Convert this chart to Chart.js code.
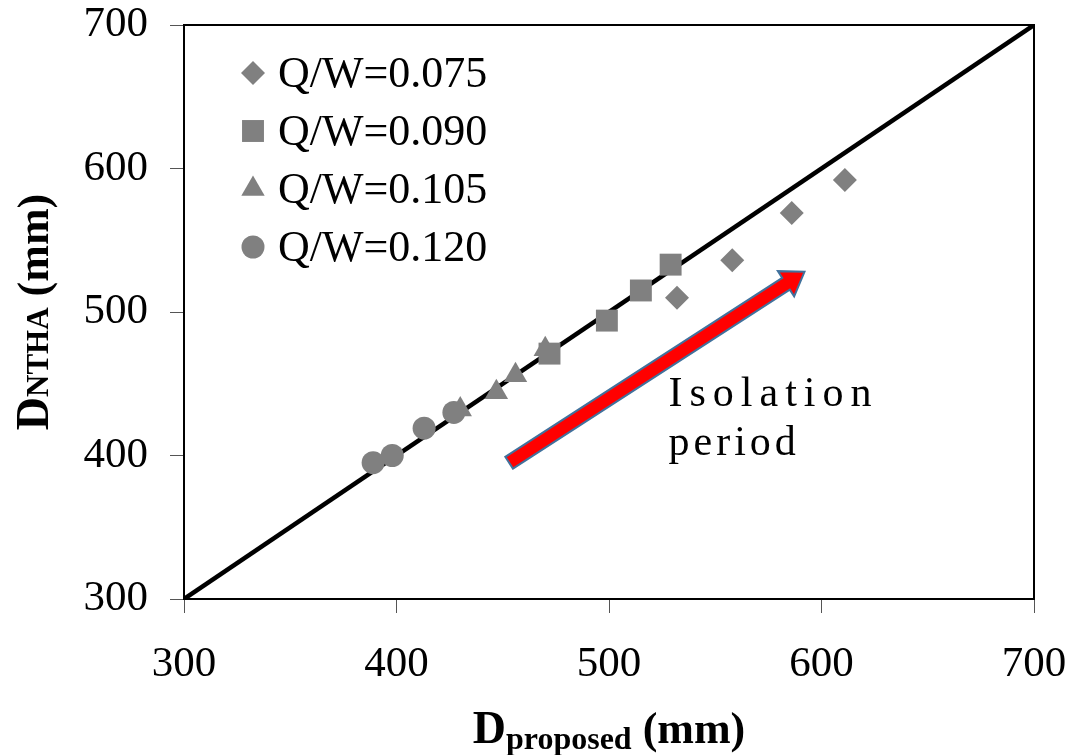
<!DOCTYPE html>
<html lang="en">
<head>
<meta charset="utf-8">
<title>D proposed vs D NTHA</title>
<script src="https://cdn.jsdelivr.net/npm/chart.js@4.4.1/dist/chart.umd.min.js"></script>
<style>
  html, body { margin: 0; padding: 0; background: #fff; }
  #contenedor { width: 1068px; height: 755px; }
</style>
</head>
<body>
<div id="contenedor"><canvas id="graficoDesplazamientos"></canvas></div>
<script>
// Datos (mm)
const etiquetasSerie = ['Q/W=0.075', 'Q/W=0.090', 'Q/W=0.105', 'Q/W=0.120'];
const estilosSerie = ['rectRot', 'rect', 'triangle', 'circle'];
const radiosSerie = [12, 15.5, 13.5, 11.5];

const dProp075 = [532, 558, 586, 611];
const dNtha075 = [510, 536, 569, 592];
const dProp090 = [472, 499, 515, 529];
const dNtha090 = [471, 494, 515, 533];
const dProp105 = [430, 447, 456, 470];
const dNtha105 = [432, 444, 456, 474];
const dProp120 = [389, 398, 413, 427];
const dNtha120 = [395, 400, 419, 430];

const lineaIgualdad = [300, 700];
const ticksEje = [300, 400, 500, 600, 700];

// Flecha "Isolation period" (en unidades de los ejes)
const flechaInicio = [453, 395];
const flechaFin = [592, 528];
const textoFlecha = ['Isolation', 'period'];
const textoFlechaPos = [[528, 434.5], [528, 400.3]];

const GRIS = '#808080';
const FUENTE = "'Liberation Serif', 'Times New Roman', serif";

function puntos(xs, ys) {
    return xs.map((x, i) => ({ x: x, y: ys[i] }));
}

const seriesDatos = [
    puntos(dProp075, dNtha075),
    puntos(dProp090, dNtha090),
    puntos(dProp105, dNtha105),
    puntos(dProp120, dNtha120)
];

// Orden de dibujo: triangulos debajo de cuadrados y circulos
const ordenSerie = [2, 2, 3, 1];

const datasets = seriesDatos.map((datos, i) => ({
    label: etiquetasSerie[i],
    data: datos,
    pointStyle: estilosSerie[i],
    pointRadius: radiosSerie[i],
    pointHoverRadius: radiosSerie[i],
    backgroundColor: GRIS,
    borderColor: GRIS,
    borderWidth: 0,
    showLine: false,
    order: ordenSerie[i]
}));

// Linea 1:1
datasets.push({
    label: '1:1',
    data: lineaIgualdad.map(v => ({ x: v, y: v })),
    showLine: true,
    borderColor: '#000',
    borderWidth: 4.5,
    pointRadius: 0,
    fill: false,
    order: 10
});

// Marco superior y derecho del area de trazado
const marcoPlugin = {
    id: 'marco',
    beforeDatasetsDraw(chart) {
        const { ctx, chartArea: a } = chart;
        ctx.save();
        ctx.strokeStyle = '#000';
        ctx.lineWidth = 2;
        ctx.beginPath();
        ctx.moveTo(a.left, a.top);
        ctx.lineTo(a.right, a.top);
        ctx.lineTo(a.right, a.bottom);
        ctx.stroke();
        ctx.restore();
    }
};

// Flecha roja y texto
const flechaPlugin = {
    id: 'flecha',
    afterDatasetsDraw(chart) {
        const { ctx, scales } = chart;
        const x0 = scales.x.getPixelForValue(flechaInicio[0]);
        const y0 = scales.y.getPixelForValue(flechaInicio[1]);
        const x1 = scales.x.getPixelForValue(flechaFin[0]);
        const y1 = scales.y.getPixelForValue(flechaFin[1]);
        const largo = Math.hypot(x1 - x0, y1 - y0);
        const ux = (x1 - x0) / largo, uy = (y1 - y0) / largo;
        const nx = -uy, ny = ux;
        const ancho = 7, anchoPunta = 15, largoPunta = 22;
        const bx = x1 - ux * largoPunta, by = y1 - uy * largoPunta;

        ctx.save();
        ctx.beginPath();
        ctx.moveTo(x0 + nx * ancho, y0 + ny * ancho);
        ctx.lineTo(bx + nx * ancho, by + ny * ancho);
        ctx.lineTo(bx + nx * anchoPunta, by + ny * anchoPunta);
        ctx.lineTo(x1, y1);
        ctx.lineTo(bx - nx * anchoPunta, by - ny * anchoPunta);
        ctx.lineTo(bx - nx * ancho, by - ny * ancho);
        ctx.lineTo(x0 - nx * ancho, y0 - ny * ancho);
        ctx.closePath();
        ctx.fillStyle = '#FF0000';
        ctx.fill();
        ctx.lineWidth = 2;
        ctx.strokeStyle = '#41719C';
        ctx.stroke();

        ctx.fillStyle = '#000';
        ctx.font = '42px ' + FUENTE;
        ctx.textAlign = 'left';
        ctx.textBaseline = 'alphabetic';
        const espacios = ['7px', '4px'];
        textoFlecha.forEach((t, i) => {
            ctx.letterSpacing = espacios[i];
            ctx.fillText(t,
                scales.x.getPixelForValue(textoFlechaPos[i][0]),
                scales.y.getPixelForValue(textoFlechaPos[i][1]));
        });
        ctx.letterSpacing = '0px';
        ctx.restore();
    }
};

// Leyenda dentro del area de trazado
const leyendaPlugin = {
    id: 'leyendaInterna',
    afterDraw(chart) {
        const { ctx, chartArea: a } = chart;
        ctx.save();
        etiquetasSerie.forEach((etiqueta, i) => {
            const y = a.top + 48 + i * 58;
            ctx.fillStyle = GRIS;
            ctx.strokeStyle = GRIS;
            Chart.helpers.drawPoint(ctx, {
                pointStyle: estilosSerie[i],
                radius: radiosSerie[i],
                rotation: 0,
                borderWidth: 0
            }, a.left + 69, y);
            ctx.fillStyle = '#000';
            ctx.font = '44px ' + FUENTE;
            ctx.textAlign = 'left';
            ctx.textBaseline = 'middle';
            ctx.fillText(etiqueta, a.left + 94, y + 2);
        });
        ctx.restore();
    }
};

// Titulos de ejes con subindices
function dibujarPartes(ctx, partes, xInicio, yBase) {
    let x = xInicio;
    partes.forEach(p => {
        ctx.font = p.font;
        ctx.fillText(p.texto, x, yBase + (p.dy || 0));
        x += ctx.measureText(p.texto).width;
    });
}

function anchoPartes(ctx, partes) {
    return partes.reduce((s, p) => {
        ctx.font = p.font;
        return s + ctx.measureText(p.texto).width;
    }, 0);
}

const titulosPlugin = {
    id: 'titulos',
    afterDraw(chart) {
        const { ctx, chartArea: a } = chart;
        ctx.save();
        ctx.fillStyle = '#000';
        ctx.textAlign = 'left';
        ctx.textBaseline = 'alphabetic';

        const partesX = [
            { texto: 'D', font: 'bold 46px ' + FUENTE },
            { texto: 'proposed', font: 'bold 32px ' + FUENTE, dy: 6 },
            { texto: ' (mm)', font: 'bold 44px ' + FUENTE }
        ];
        const anchoX = anchoPartes(ctx, partesX);
        dibujarPartes(ctx, partesX, (a.left + a.right) / 2 - anchoX / 2, 743);

        const partesY = [
            { texto: 'D', font: 'bold 46px ' + FUENTE },
            { texto: 'NTHA', font: 'bold 31px ' + FUENTE },
            { texto: ' (mm)', font: 'bold 44px ' + FUENTE }
        ];
        const anchoY = anchoPartes(ctx, partesY);
        ctx.translate(48, (a.top + a.bottom) / 2);
        ctx.rotate(-Math.PI / 2);
        dibujarPartes(ctx, partesY, -anchoY / 2, 0);
        ctx.restore();
    }
};

function opcionesEje(alto, ancho) {
    return {
        type: 'linear',
        min: ticksEje[0],
        max: ticksEje[ticksEje.length - 1],
        ticks: {
            stepSize: 100,
            color: '#000',
            font: { family: FUENTE, size: 43 },
            padding: alto ? 26 : 22,
            maxRotation: 0,
            autoSkip: false
        },
        grid: {
            drawOnChartArea: false,
            drawTicks: true,
            tickLength: 14,
            tickColor: '#555',
            tickWidth: 1
        },
        border: { display: true, color: '#000', width: 2 },
        afterFit(escala) {
            if (alto) escala.height = alto;
            if (ancho) escala.width = ancho;
            // sin margen extra por etiquetas que sobresalen
            escala.paddingTop = 0;
            escala.paddingBottom = 0;
            escala.paddingLeft = 0;
            escala.paddingRight = 0;
        }
    };
}

const ctx = document.getElementById('graficoDesplazamientos').getContext('2d');
new Chart(ctx, {
    type: 'scatter',
    data: { datasets: datasets },
    options: {
        responsive: true,
        maintainAspectRatio: false,
        animation: false,
        layout: { padding: { top: 25, right: 34, left: 0, bottom: 0 } },
        plugins: {
            legend: { display: false },
            tooltip: { enabled: false }
        },
        scales: {
            x: opcionesEje(156, null),
            y: opcionesEje(null, 184)
        }
    },
    plugins: [marcoPlugin, flechaPlugin, leyendaPlugin, titulosPlugin]
});
</script>
</body>
</html>
